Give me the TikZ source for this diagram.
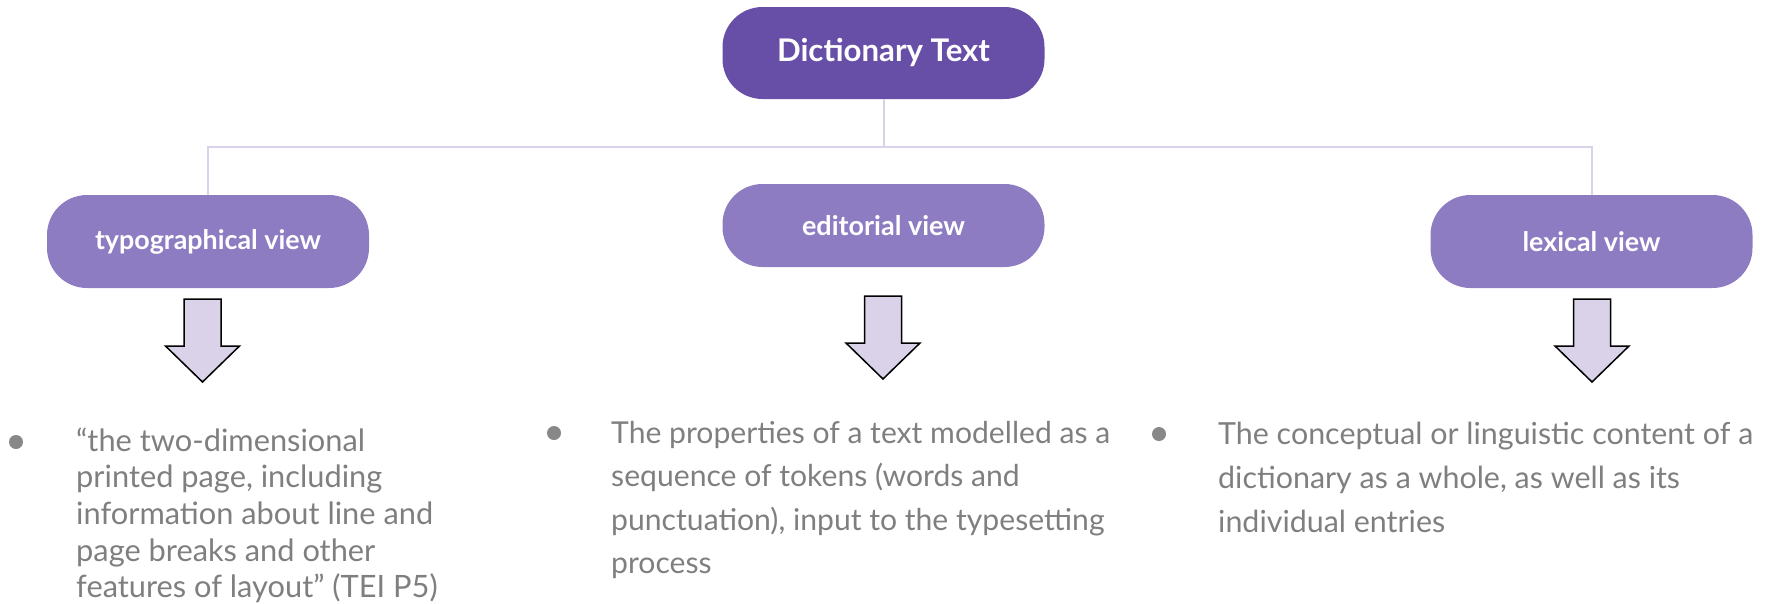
\documentclass[tikz,border=0pt]{standalone}
\usepackage{fontspec}
\setmainfont{Lato}
\newlength\fitw
\newcommand\fitset[3]{%
  \settowidth\fitw{\fontsize{20pt}{20pt}\selectfont #2}%
  \edef\fitsz{\the\dimexpr 20pt*\numexpr #1*65536\relax/\numexpr\fitw\relax\relax}%
  \fontsize{\fitsz}{#3}\selectfont}
\definecolor{topfill}{HTML}{674EA7}
\definecolor{childfill}{HTML}{8E7CC3}
\definecolor{linec}{HTML}{D9D2E9}
\definecolor{arrfill}{HTML}{D9D2E9}
\definecolor{greytext}{HTML}{7F7F7F}
\definecolor{bulletc}{HTML}{888888}
\tikzset{
  pill/.style={rectangle, rounded corners=40pt, draw=none, text=white, inner sep=0pt},
  topbox/.style={pill, fill=topfill, minimum width=322pt, minimum height=92pt},
  childbox/.style={pill, fill=childfill, minimum width=322pt, minimum height=93pt},
  conn/.style={draw=linec, line width=2pt},
  arrowstyle/.style={draw=black, fill=arrfill, line width=1.5pt, line join=miter},
  downarrow/.pic={\path[arrowstyle] (-18.5,0) -- (18.5,0) -- (18.5,47) -- (37,47) -- (0,83) -- (-37,47) -- (-18.5,47) -- cycle;},
  bulletdot/.style={circle, fill=bulletc, minimum size=14pt, inner sep=0pt},
  bodytext/.style={anchor=north west, inner sep=0pt, align=left, text=greytext}
}
\begin{document}
\begin{tikzpicture}[x=1pt,y=-1pt]
\useasboundingbox (0,0) rectangle (1767,603);
% boxes
\node[topbox, font={\bfseries\fitset{213}{Dictionary Text}{30pt}}] (top) at (883.5,53) {Dictionary Text};
\node[childbox, font={\bfseries\fitset{226}{typographical view}{28pt}}] (typo) at (208,241.5) {typographical view};
\node[childbox, minimum height=83pt, font={\bfseries\fitset{163}{editorial view}{28pt}}] (edit) at (883.5,225.5) {editorial view};
\node[childbox, font={\bfseries\fitset{138}{lexical view}{28pt}}] (lex) at (1591.5,241.5) {lexical view};
% connectors
\coordinate (j) at (883.5,147);
\draw[conn] (top.south) -- (j);
\draw[conn] (typo.north) |- (j) -| (lex.north);
% arrows
\pic at (202.5,299) {downarrow};
\pic at (883,296) {downarrow};
\pic at (1592,299) {downarrow};
% bullets
\node[bulletdot] (b1) at (16,442) {};
\node[bulletdot] (b2) at (554,433) {};
\node[bulletdot] (b3) at (1159,434) {};
% texts
\node[bodytext, font={\fitset{357}{information about line and}{36.6pt}}] (t1) at (76,421)
  {\rule{0pt}{30pt}“the two-dimensional\\printed page, including\\information about line and\\page breaks and other\\features of layout” (TEI P5)};
\node[bodytext, font={\fitset{499}{The properties of a text modelled as a}{43.5pt}}] (t2) at (611,413)
  {\rule{0pt}{30pt}The properties of a text modelled as a\\sequence of tokens (words and\\punctuation), input to the typesetting\\process};
\node[bodytext, font={\fitset{535}{The conceptual or linguistic content of a}{44pt}}] (t3) at (1218,414)
  {\rule{0pt}{30pt}The conceptual or linguistic content of a\\dictionary as a whole, as well as its\\individual entries};
\end{tikzpicture}
\end{document}
